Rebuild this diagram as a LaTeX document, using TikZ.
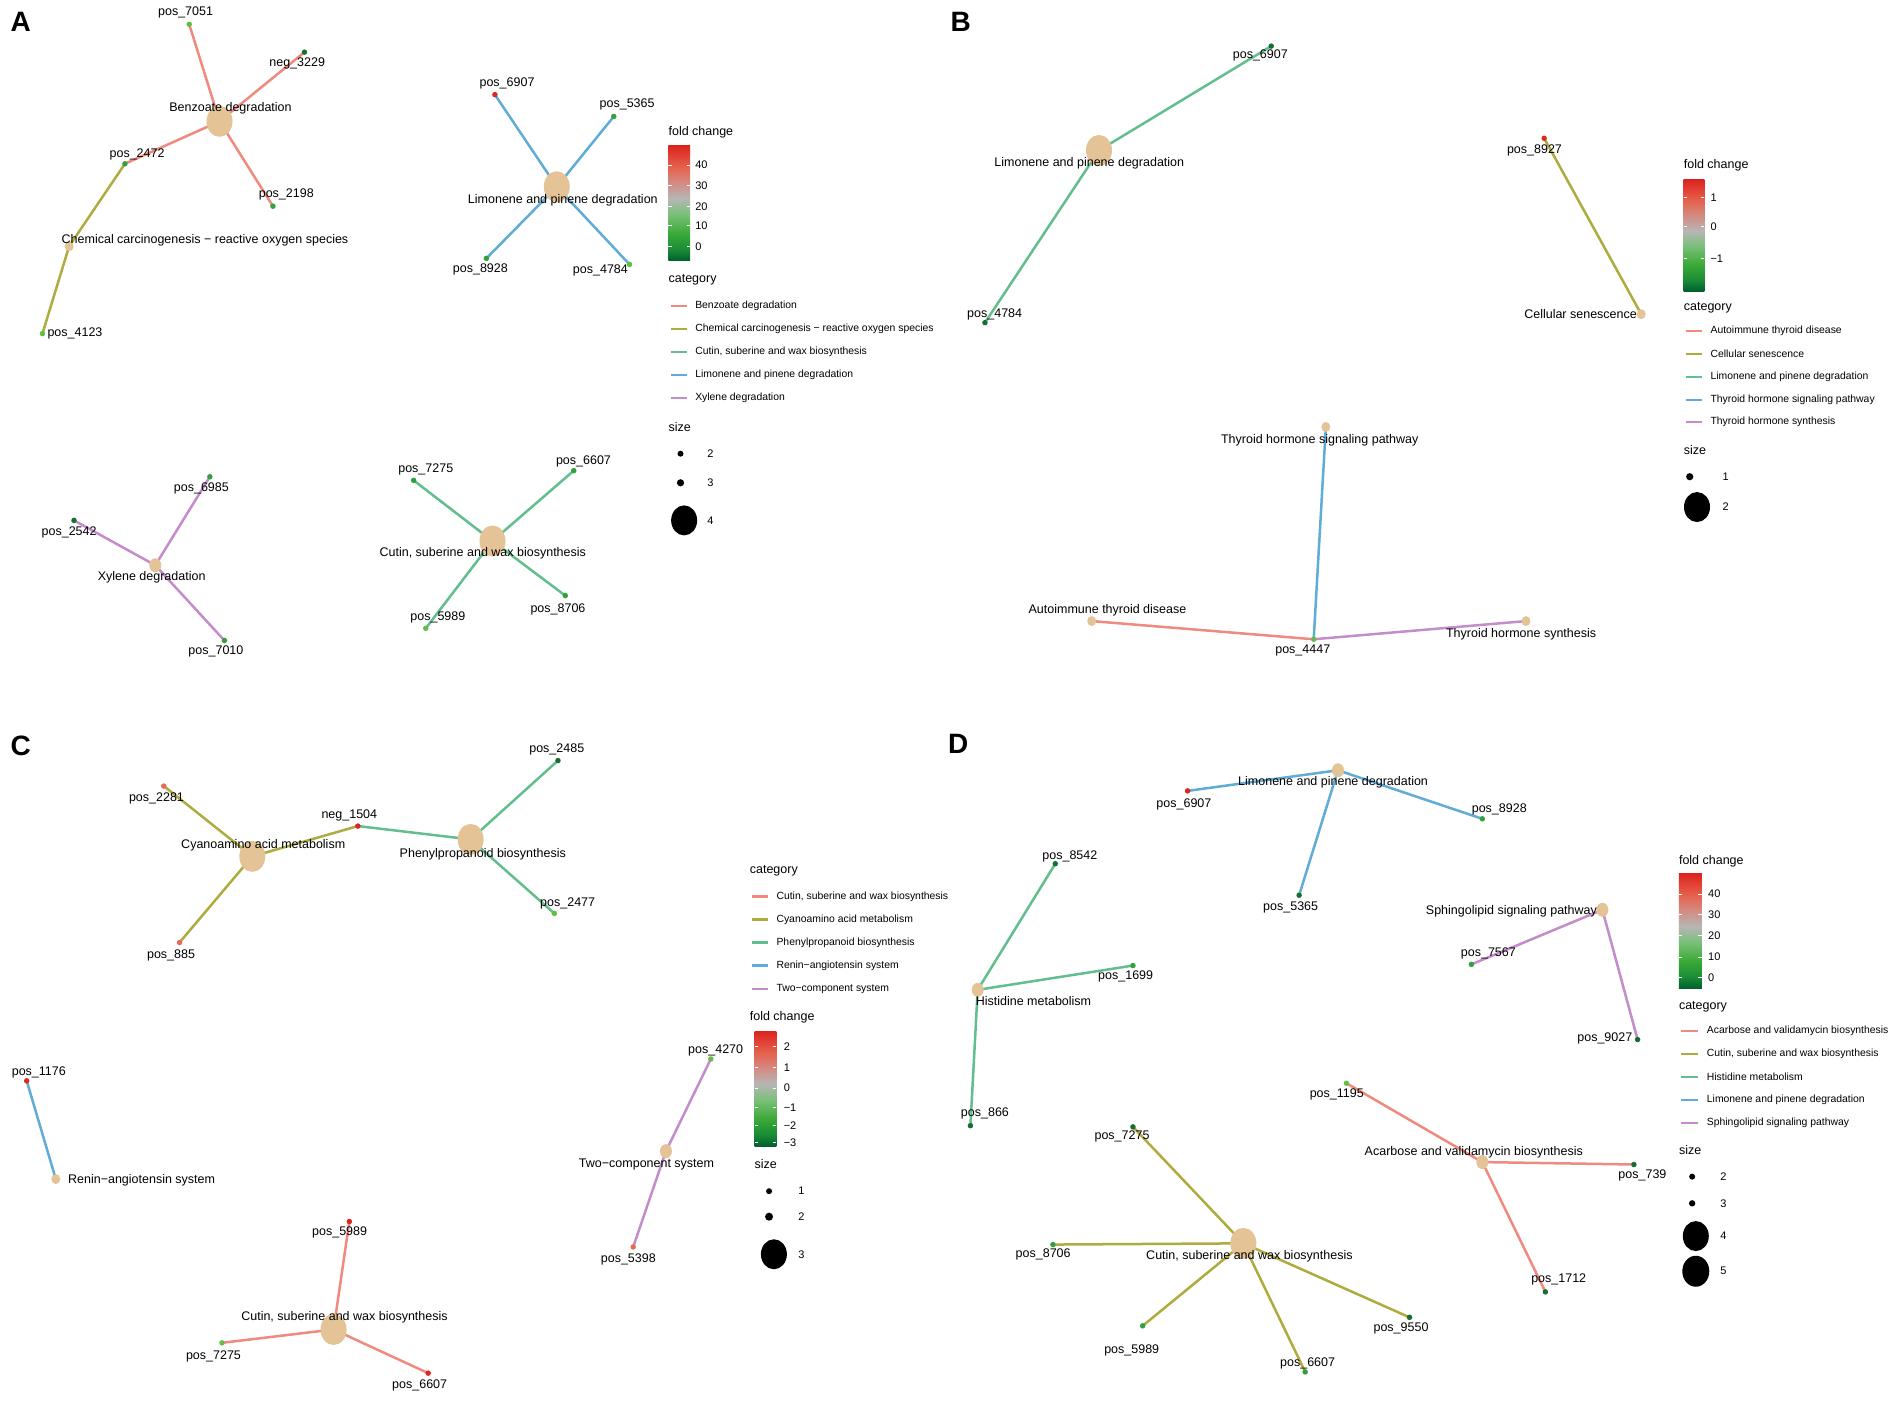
\documentclass[tikz,border=0pt]{standalone}
\usepackage{fontspec}
\setmainfont{Liberation Sans}
\usetikzlibrary{shapes.geometric,backgrounds}

\definecolor{hubc}{RGB}{228,196,150}
\definecolor{catsalmon}{RGB}{240,138,126}
\definecolor{catolive}{RGB}{174,172,62}
\definecolor{catgreen}{RGB}{98,190,142}
\definecolor{catblue}{RGB}{96,172,216}
\definecolor{catpurple}{RGB}{196,140,202}
\definecolor{fcdark}{RGB}{22,110,50}
\definecolor{fcgreen}{RGB}{50,160,60}
\definecolor{fclight}{RGB}{100,190,70}
\definecolor{fcred}{RGB}{220,40,30}
\definecolor{fcsalmon}{RGB}{232,105,85}
\definecolor{sb1}{RGB}{0,95,45}
\definecolor{sb2}{RGB}{25,140,55}
\definecolor{sb3}{RGB}{60,170,55}
\definecolor{sb4}{RGB}{120,192,120}
\definecolor{sb5}{RGB}{182,182,182}
\definecolor{sb6}{RGB}{212,138,128}
\definecolor{sb7}{RGB}{230,95,75}
\definecolor{sb8}{RGB}{220,35,30}

\pgfdeclareverticalshading{fcbar}{100bp}{color(0bp)=(sb1); color(25bp)=(sb1); color(30bp)=(sb2);
  color(37bp)=(sb3); color(45bp)=(sb4); color(52bp)=(sb5); color(59bp)=(sb6); color(66bp)=(sb7);
  color(75bp)=(sb8); color(100bp)=(sb8)}

\tikzset{
  hubbig/.style={ellipse, fill=hubc, inner sep=0pt, minimum width=26pt, minimum height=31pt},
  hubsmall/.style={ellipse, fill=hubc, inner sep=0pt, minimum width=12pt, minimum height=14pt},
  hubtiny/.style={ellipse, fill=hubc, inner sep=0pt, minimum width=9pt, minimum height=10pt},
  met/.style={circle, inner sep=0pt, minimum size=5.5pt},
  lbl/.style={font=\fontsize{12.5}{14}\selectfont, inner sep=0pt},
  panel/.style={font=\fontsize{28}{30}\selectfont\bfseries, inner sep=0pt},
  legtitle/.style={font=\fontsize{12.5}{14}\selectfont, inner sep=0pt, anchor=west},
  legtext/.style={font=\fontsize{10.4}{12}\selectfont, inner sep=0pt, anchor=west},
  legtick/.style={font=\fontsize{11}{12}\selectfont, inner sep=0pt, anchor=west},
  edge/.style={line width=2.5pt},
  cat1/.style={edge, draw=catsalmon},
  cat2/.style={edge, draw=catolive},
  cat3/.style={edge, draw=catgreen},
  cat4/.style={edge, draw=catblue},
  cat5/.style={edge, draw=catpurple},
  legline/.style={line width=2.2pt},
  tick/.style={draw=white, line width=0.8pt}
}

\begin{document}
\begin{tikzpicture}[x=1.21301pt, y=-1.21301pt]

    \useasboundingbox (0,0) rectangle (1568,1155);

    % Panel letters
    \node[panel] (lA) at (17,18) {A};
    \node[panel] (lB) at (792,18) {B};
    \node[panel] (lC) at (17,615) {C};
    \node[panel] (lD) at (790,613) {D};

    % ---------------- Panel A ----------------
    % Benzoate degradation and chemical carcinogenesis
    \node[hubbig] (aBenz) at (181,100) {};
    \node[hubtiny] (aChem) at (57,203) {};
    \node[met, fill=fclight] (a7051) at (156,20) {};
    \node[met, fill=fcdark] (a3229) at (251,43) {};
    \node[met, fill=fcgreen] (a2472) at (103,135) {};
    \node[met, fill=fcgreen] (a2198) at (225,170) {};
    \node[met, fill=fclight] (a4123) at (35,275) {};

    % Limonene and pinene degradation
    \node[hubbig] (aLimo) at (459,154) {};
    \node[met, fill=fcred] (a6907) at (408,78) {};
    \node[met, fill=fcgreen] (a5365) at (506,96) {};
    \node[met, fill=fcgreen] (a8928) at (401,213) {};
    \node[met, fill=fclight] (a4784) at (519,218) {};

    % Xylene degradation
    \node[hubsmall] (aXyl) at (128,466) {};
    \node[met, fill=fcgreen] (a6985) at (173,393) {};
    \node[met, fill=fcdark] (a2542) at (61,429) {};
    \node[met, fill=fcgreen] (a7010) at (185,528) {};

    % Cutin, suberine and wax biosynthesis
    \node[hubbig] (aCut) at (406,446) {};
    \node[met, fill=fcgreen] (a7275) at (341,396) {};
    \node[met, fill=fcgreen] (a6607) at (473,388) {};
    \node[met, fill=fclight] (a5989) at (351,518) {};
    \node[met, fill=fcgreen] (a8706) at (466,491) {};

    % Labels of panel A
    \node[lbl] (ta7051) at (153,10) {pos\_7051};
    \node[lbl] (ta3229) at (245,52) {neg\_3229};
    \node[lbl] (taBenz) at (190,89) {Benzoate degradation};
    \node[lbl] (ta2472) at (113,127) {pos\_2472};
    \node[lbl] (ta2198) at (236,160) {pos\_2198};
    \node[lbl] (taChem) at (169,198) {Chemical carcinogenesis − reactive oxygen species};
    \node[lbl, anchor=west] (ta4123) at (39,275) {pos\_4123};
    \node[lbl] (ta6907) at (418,69) {pos\_6907};
    \node[lbl] (ta5365) at (517,86) {pos\_5365};
    \node[lbl] (taLimo) at (464,165) {Limonene and pinene degradation};
    \node[lbl] (ta8928) at (396,222) {pos\_8928};
    \node[lbl] (ta4784) at (495,223) {pos\_4784};
    \node[lbl] (ta6985) at (166,403) {pos\_6985};
    \node[lbl] (ta2542) at (57,439) {pos\_2542};
    \node[lbl] (taXyl) at (125,476) {Xylene degradation};
    \node[lbl] (ta7010) at (178,537) {pos\_7010};
    \node[lbl] (ta7275) at (351,387) {pos\_7275};
    \node[lbl] (ta6607) at (481,380) {pos\_6607};
    \node[lbl] (taCut) at (398,456) {Cutin, suberine and wax biosynthesis};
    \node[lbl] (ta5989) at (361,509) {pos\_5989};
    \node[lbl] (ta8706) at (460,502) {pos\_8706};

    % Legend of panel A
    \node[legtitle] (aFold) at (551,109) {fold change};
    \shade[shading=fcbar] (551,120) rectangle (569,215);
    \foreach \v/\y in {40/136, 30/153, 20/170, 10/186, 0/203} {
        \draw[tick] (551,\y) -- (554,\y) (566,\y) -- (569,\y);
        \node[legtick] at (573,\y) {\v};
    }
    \node[legtitle] (aCat) at (551,231) {category};
    \foreach \c/\y/\t in {catsalmon/252/Benzoate degradation,
                          catolive/271/Chemical carcinogenesis − reactive oxygen species,
                          catgreen/290/{Cutin, suberine and wax biosynthesis},
                          catblue/309/Limonene and pinene degradation,
                          catpurple/328/Xylene degradation} {
        \draw[legline, \c] (553,\y) -- (566,\y);
        \node[legtext] at (573,\y) {\t};
    }
    \node[legtitle] (aSize) at (551,352) {size};
    \fill (561,374) circle (3pt);
    \fill (561,398) circle (3.6pt);
    \node[ellipse, fill=black, minimum width=26pt, minimum height=30pt, inner sep=0pt] (aSz4) at (564,429) {};
    \node[legtick] at (583,374) {2};
    \node[legtick] at (583,398) {3};
    \node[legtick] at (583,429) {4};

    % ---------------- Panel B ----------------
    \node[hubbig] (bLimo) at (906,124) {};
    \node[met, fill=fcdark] (b6907) at (1048,38) {};
    \node[met, fill=fcdark] (b4784) at (812,266) {};
    \node[hubtiny] (bCell) at (1353,259) {};
    \node[met, fill=fcred] (b8927) at (1273,114) {};
    \node[hubtiny] (bTsig) at (1093,352) {};
    \node[hubtiny] (bAuto) at (900,512) {};
    \node[hubtiny] (bTsyn) at (1258,512) {};
    \node[met, fill=fclight] (b4447) at (1083,527) {};

    % Labels of panel B
    \node[lbl] (tb6907) at (1039,46) {pos\_6907};
    \node[lbl] (tbLimo) at (898,135) {Limonene and pinene degradation};
    \node[lbl] (tb4784) at (820,259) {pos\_4784};
    \node[lbl] (tb8927) at (1265,124) {pos\_8927};
    \node[lbl] (tbCell) at (1303,259) {Cellular senescence};
    \node[lbl] (tbTsig) at (1088,363) {Thyroid hormone signaling pathway};
    \node[lbl] (tbAuto) at (913,503) {Autoimmune thyroid disease};
    \node[lbl] (tb4447) at (1074,536) {pos\_4447};
    \node[lbl] (tbTsyn) at (1254,523) {Thyroid hormone synthesis};

    % Legend of panel B
    \node[legtitle] (bFold) at (1388,136) {fold change};
    \shade[shading=fcbar] (1388,148) rectangle (1405,240);
    \foreach \v/\y in {1/163, 0/187, −1/213} {
        \draw[tick] (1388,\y) -- (1391,\y) (1402,\y) -- (1405,\y);
        \node[legtick] at (1410,\y) {\v};
    }
    \node[legtitle] (bCat) at (1388,254) {category};
    \foreach \c/\y/\t in {catsalmon/273/Autoimmune thyroid disease,
                          catolive/292/Cellular senescence,
                          catgreen/311/Limonene and pinene degradation,
                          catblue/330/Thyroid hormone signaling pathway,
                          catpurple/348/Thyroid hormone synthesis} {
        \draw[legline, \c] (1390,\y) -- (1403,\y);
        \node[legtext] at (1410,\y) {\t};
    }
    \node[legtitle] (bSize) at (1388,371) {size};
    \fill (1393,393) circle (3.6pt);
    \node[ellipse, fill=black, minimum width=26pt, minimum height=30pt, inner sep=0pt] (bSz2) at (1399,418) {};
    \node[legtick] at (1420,393) {1};
    \node[legtick] at (1420,418) {2};

    % ---------------- Panel C ----------------
    \node[hubbig] (cCyan) at (208,706) {};
    \node[hubbig] (cPhen) at (388,692) {};
    \node[met, fill=fcsalmon] (c2281) at (135,648) {};
    \node[met, fill=fcred] (c1504) at (295,681) {};
    \node[met, fill=fcsalmon] (c885) at (148,777) {};
    \node[met, fill=fcdark] (c2485) at (460,627) {};
    \node[met, fill=fclight] (c2477) at (457,753) {};
    \node[hubtiny] (cRen) at (46,972) {};
    \node[met, fill=fcred] (c1176) at (22,891) {};
    \node[hubsmall] (cTwo) at (549,949) {};
    \node[met, fill=fclight] (c4270) at (586,873) {};
    \node[met, fill=fcsalmon] (c5398) at (522,1028) {};
    \node[hubbig] (cCut) at (275,1096) {};
    \node[met, fill=fcred] (c5989) at (288,1007) {};
    \node[met, fill=fclight] (c7275) at (183,1107) {};
    \node[met, fill=fcred] (c6607) at (353,1132) {};

    % Labels of panel C
    \node[lbl] (tc2485) at (459,618) {pos\_2485};
    \node[lbl] (tc2281) at (129,658) {pos\_2281};
    \node[lbl] (tc1504) at (288,672) {neg\_1504};
    \node[lbl] (tcCyan) at (217,697) {Cyanoamino acid metabolism};
    \node[lbl] (tcPhen) at (398,704) {Phenylpropanoid biosynthesis};
    \node[lbl] (tc2477) at (468,745) {pos\_2477};
    \node[lbl] (tc885) at (141,788) {pos\_885};
    \node[lbl] (tc1176) at (32,884) {pos\_1176};
    \node[lbl, anchor=west] (tcRen) at (56,973) {Renin−angiotensin system};
    \node[lbl] (tc4270) at (590,866) {pos\_4270};
    \node[lbl] (tcTwo) at (533,960) {Two−component system};
    \node[lbl] (tc5398) at (518,1038) {pos\_5398};
    \node[lbl] (tc5989) at (280,1016) {pos\_5989};
    \node[lbl] (tcCut) at (284,1086) {Cutin, suberine and wax biosynthesis};
    \node[lbl] (tc7275) at (176,1118) {pos\_7275};
    \node[lbl] (tc6607) at (346,1142) {pos\_6607};

    % Legend of panel C
    \node[legtitle] (cCat) at (618,718) {category};
    \foreach \c/\y/\t in {catsalmon/739/{Cutin, suberine and wax biosynthesis},
                          catolive/758/Cyanoamino acid metabolism,
                          catgreen/777/Phenylpropanoid biosynthesis,
                          catblue/796/Renin−angiotensin system,
                          catpurple/815/Two−component system} {
        \draw[legline, \c] (620,\y) -- (633,\y);
        \node[legtext] at (640,\y) {\t};
    }
    \node[legtitle] (cFold) at (618,839) {fold change};
    \shade[shading=fcbar] (622,850) rectangle (640,945);
    \foreach \v/\y in {2/863, 1/880, 0/897, −1/913, −2/928, −3/942} {
        \draw[tick] (622,\y) -- (625,\y) (637,\y) -- (640,\y);
        \node[legtick] at (646,\y) {\v};
    }
    \node[legtitle] (cSize) at (622,960) {size};
    \fill (634,982) circle (3pt);
    \fill (634,1003) circle (4pt);
    \node[ellipse, fill=black, minimum width=26pt, minimum height=30pt, inner sep=0pt] (cSz3) at (638,1034) {};
    \node[legtick] at (658,982) {1};
    \node[legtick] at (658,1003) {2};
    \node[legtick] at (658,1034) {3};

    % ---------------- Panel D ----------------
    \node[hubsmall] (dLimo) at (1103,635) {};
    \node[met, fill=fcred] (d6907) at (979,652) {};
    \node[met, fill=fcgreen] (d8928) at (1222,675) {};
    \node[met, fill=fcdark] (d5365) at (1071,738) {};
    \node[hubsmall] (dHis) at (806,816) {};
    \node[met, fill=fcdark] (d8542) at (870,712) {};
    \node[met, fill=fcgreen] (d1699) at (934,796) {};
    \node[met, fill=fcdark] (d866) at (800,928) {};
    \node[hubsmall] (dSph) at (1321,750) {};
    \node[met, fill=fcgreen] (d7567) at (1213,795) {};
    \node[met, fill=fcdark] (d9027) at (1350,857) {};
    \node[hubsmall] (dAca) at (1222,958) {};
    \node[met, fill=fclight] (d1195) at (1110,893) {};
    \node[met, fill=fcdark] (d739) at (1347,960) {};
    \node[met, fill=fcdark] (d1712) at (1274,1065) {};
    \node[hubbig] (dCut) at (1025,1025) {};
    \node[met, fill=fcdark] (d7275) at (934,929) {};
    \node[met, fill=fcgreen] (d8706) at (868,1026) {};
    \node[met, fill=fcgreen] (d5989) at (942,1093) {};
    \node[met, fill=fcgreen] (d6607) at (1076,1131) {};
    \node[met, fill=fcdark] (d9550) at (1162,1086) {};

    % Labels of panel D
    \node[lbl] (tdLimo) at (1099,645) {Limonene and pinene degradation};
    \node[lbl] (td6907) at (976,663) {pos\_6907};
    \node[lbl] (td8928) at (1236,667) {pos\_8928};
    \node[lbl] (td5365) at (1064,748) {pos\_5365};
    \node[lbl] (td8542) at (882,706) {pos\_8542};
    \node[lbl] (td1699) at (928,805) {pos\_1699};
    \node[lbl] (tdHis) at (852,825) {Histidine metabolism};
    \node[lbl] (td866) at (812,918) {pos\_866};
    \node[lbl] (tdSph) at (1246,751) {Sphingolipid signaling pathway};
    \node[lbl] (td7567) at (1227,786) {pos\_7567};
    \node[lbl] (td9027) at (1323,856) {pos\_9027};
    \node[lbl] (td1195) at (1102,902) {pos\_1195};
    \node[lbl] (tdAca) at (1215,950) {Acarbose and validamycin biosynthesis};
    \node[lbl] (td739) at (1354,969) {pos\_739};
    \node[lbl] (td1712) at (1285,1055) {pos\_1712};
    \node[lbl] (td7275) at (925,937) {pos\_7275};
    \node[lbl] (td8706) at (860,1034) {pos\_8706};
    \node[lbl] (tdCut) at (1030,1036) {Cutin, suberine and wax biosynthesis};
    \node[lbl] (td5989) at (933,1113) {pos\_5989};
    \node[lbl] (td6607) at (1078,1124) {pos\_6607};
    \node[lbl] (td9550) at (1155,1095) {pos\_9550};

    % Legend of panel D
    \node[legtitle] (dFold) at (1384,710) {fold change};
    \shade[shading=fcbar] (1384,720) rectangle (1403,815);
    \foreach \v/\y in {40/737, 30/754, 20/771, 10/789, 0/806} {
        \draw[tick] (1384,\y) -- (1387,\y) (1400,\y) -- (1403,\y);
        \node[legtick] at (1408,\y) {\v};
    }
    \node[legtitle] (dCat) at (1384,830) {category};
    \foreach \c/\y/\t in {catsalmon/850/Acarbose and validamycin biosynthesis,
                          catolive/869/{Cutin, suberine and wax biosynthesis},
                          catgreen/888/Histidine metabolism,
                          catblue/907/Limonene and pinene degradation,
                          catpurple/926/Sphingolipid signaling pathway} {
        \draw[legline, \c] (1386,\y) -- (1400,\y);
        \node[legtext] at (1407,\y) {\t};
    }
    \node[legtitle] (dSize) at (1384,948) {size};
    \fill (1395,970) circle (3pt);
    \fill (1395,992) circle (3.2pt);
    \node[ellipse, fill=black, minimum width=26pt, minimum height=30pt, inner sep=0pt] (dSz4) at (1398,1019) {};
    \node[ellipse, fill=black, minimum width=27pt, minimum height=31pt, inner sep=0pt] (dSz5) at (1398,1048) {};
    \node[legtick] at (1418,970) {2};
    \node[legtick] at (1418,992) {3};
    \node[legtick] at (1418,1019) {4};
    \node[legtick] at (1418,1048) {5};

    % Edges, drawn behind the nodes
    \begin{pgfonlayer}{background}
        \fill[white] (0,0) rectangle (1568,1155);
        % panel A
        \foreach \m in {a7051, a3229, a2472, a2198} \draw[cat1] (aBenz.center) -- (\m.center);
        \foreach \m in {a2472, a4123} \draw[cat2] (aChem.center) -- (\m.center);
        \foreach \m in {a6907, a5365, a8928, a4784} \draw[cat4] (aLimo.center) -- (\m.center);
        \foreach \m in {a6985, a2542, a7010} \draw[cat5] (aXyl.center) -- (\m.center);
        \foreach \m in {a7275, a6607, a5989, a8706} \draw[cat3] (aCut.center) -- (\m.center);
        % panel B
        \draw[cat1] (bAuto.center) -- (b4447.center);
        \draw[cat2] (bCell.center) -- (b8927.center);
        \foreach \m in {b6907, b4784} \draw[cat3] (bLimo.center) -- (\m.center);
        \draw[cat4] (bTsig.center) -- (b4447.center);
        \draw[cat5] (bTsyn.center) -- (b4447.center);
        % panel C
        \foreach \m in {c2281, c1504, c885} \draw[cat2] (cCyan.center) -- (\m.center);
        \foreach \m in {c1504, c2485, c2477} \draw[cat3] (cPhen.center) -- (\m.center);
        \draw[cat4] (cRen.center) -- (c1176.center);
        \foreach \m in {c4270, c5398} \draw[cat5] (cTwo.center) -- (\m.center);
        \foreach \m in {c5989, c7275, c6607} \draw[cat1] (cCut.center) -- (\m.center);
        % panel D
        \foreach \m in {d6907, d8928, d5365} \draw[cat4] (dLimo.center) -- (\m.center);
        \foreach \m in {d8542, d1699, d866} \draw[cat3] (dHis.center) -- (\m.center);
        \foreach \m in {d7567, d9027} \draw[cat5] (dSph.center) -- (\m.center);
        \foreach \m in {d1195, d739, d1712} \draw[cat1] (dAca.center) -- (\m.center);
        \foreach \m in {d7275, d8706, d5989, d6607, d9550} \draw[cat2] (dCut.center) -- (\m.center);
    \end{pgfonlayer}

\end{tikzpicture}
\end{document}
